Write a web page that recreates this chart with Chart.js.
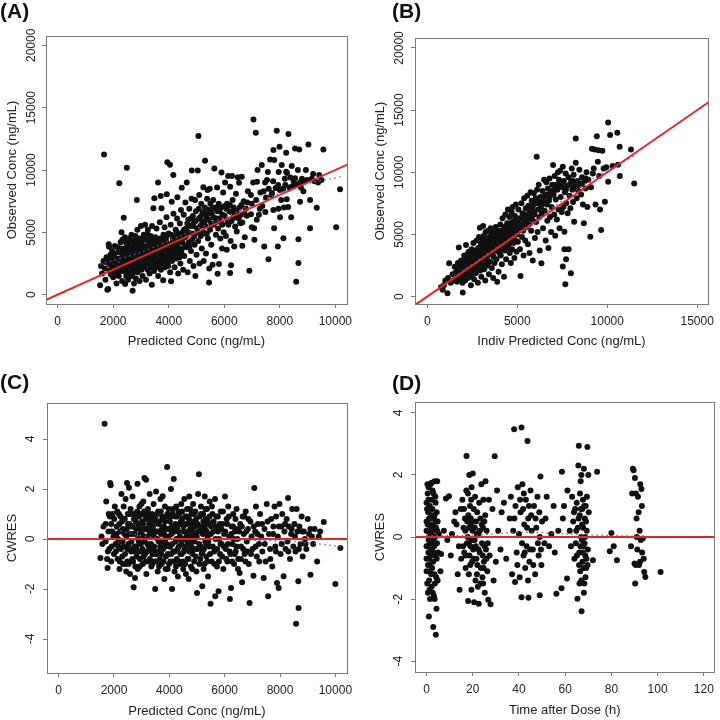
<!DOCTYPE html>
<html>
<head>
<meta charset="utf-8">
<script src="https://cdn.jsdelivr.net/npm/chart.js@4.4.1/dist/chart.umd.min.js"></script>
<style>
body { margin: 0; background: #fff; width: 720px; height: 720px; position: relative; overflow: hidden; font-family: "Liberation Sans", Arial, sans-serif; }
.panel { position: absolute; width: 360px; height: 360px; }
.tag { position: absolute; font-weight: bold; font-size: 21px; color: #111; line-height: 24px; }
</style>
</head>
<body>
<div class="panel" style="left:0;top:0"><canvas id="chartA" width="360" height="360"></canvas></div>
<div class="panel" style="left:360px;top:0"><canvas id="chartB" width="360" height="360"></canvas></div>
<div class="panel" style="left:0;top:360px"><canvas id="chartC" width="360" height="360"></canvas></div>
<div class="panel" style="left:360px;top:360px"><canvas id="chartD" width="360" height="360"></canvas></div>
<div class="tag" style="left:0;top:-1px">(A)</div>
<div class="tag" style="left:392px;top:-1px">(B)</div>
<div class="tag" style="left:0;top:370px">(C)</div>
<div class="tag" style="left:392px;top:371px">(D)</div>
<script>
// (A) observed vs population predicted, ng/mL
const predObsA = [
  [1530,750],[1560,2300],[1600,1700],[1650,2700],[1670,11250],[1700,2100],[1720,1200],[1750,2600],[1790,400],[1820,450],
  [1840,4050],[1850,3850],[1870,1900],[1880,2400],[1900,3200],[1920,1600],[1950,2900],[1980,2200],[2000,1400],
  [2030,2700],[2050,3300],[2080,1800],[2100,2500],[2120,900],[2150,3800],[2170,2000],[2200,1500],[2220,8930],[2230,2900],
  [2250,3400],[2270,4200],[2290,2300],[2300,5000],[2320,1100],[2340,3000],[2360,1900],[2380,6160],[2390,3700],[2400,2600],
  [2420,4600],[2430,850],[2450,3200],[2470,1500],[2490,10190],[2490,2200],[2500,4000],[2500,2800],
  [2520,3500],[2540,1200],[2560,2500],[2580,4500],[2600,3000],[2610,1800],[2630,3800],[2650,2200],[2660,4800],[2680,1500],
  [2700,320],[2700,2700],[2720,3400],[2740,4200],[2750,900],[2760,2000],[2780,3100],[2800,2400],[2800,4700],[2820,1300],
  [2840,3600],[2850,7600],[2860,2800],[2870,5200],[2880,1800],[2900,4000],[2910,3300],[2920,2100],[2940,4500],[2950,1100],
  [2960,3700],[2980,2600],[3000,5500],[3000,3000],
  [3020,2000],[3030,4200],[3050,3500],[3060,1500],[3080,2700],[3100,4800],[3110,3100],[3130,2300],[3150,5600],[3160,3800],
  [3180,1200],[3190,2900],[3200,4400],[3220,3300],[3240,2000],[3250,5200],[3270,3700],[3280,2500],[3300,4100],[3310,1700],
  [3330,3000],[3350,4700],[3360,2200],[3380,3500],[3390,800],[3400,5500],[3410,2800],[3430,4300],[3446,6930],[3450,3200],
  [3470,1900],[3482,7730],[3490,3900],[3500,2500],
  [3520,4600],[3540,3000],[3560,5300],[3580,2200],[3600,3700],[3615,8990],[3620,1500],[3640,4300],[3660,2700],[3680,5800],
  [3700,3300],[3712,7920],[3720,2000],[3740,6940],[3750,4000],[3770,2500],[3790,3100],[3800,1150],[3810,4800],[3830,3600],
  [3850,5400],[3860,2200],[3880,3000],[3900,4300],[3920,6200],[3928,8050],[3950,10620],[3950,3500],[3970,2600],[3990,4900],
  [4020,3200],[4045,10430],[4050,1800],[4070,5600],[4083,1070],[4100,4100],[4108,7460],[4120,2700],[4140,3700],[4165,9600],
  [4170,6500],[4190,4600],[4210,2200],[4230,3500],[4250,5200],[4270,2900],[4300,6100],[4310,7810],[4320,4000],[4340,1700],
  [4360,4800],[4380,3200],[4400,5700],[4420,2500],[4440,6800],[4460,4300],[4468,8580],[4480,3700],[4500,5000],
  [4520,2000],[4540,6400],[4560,3100],[4580,4600],[4600,7400],[4620,5300],[4648,8990],[4660,3800],[4680,1800],[4700,6000],
  [4720,4200],[4740,6900],[4760,2700],[4780,5500],[4800,3500],[4820,7700],[4830,9950],[4850,4900],[4870,6300],[4890,2300],
  [4910,5800],[4930,4000],[4950,7600],[4960,1500],[4980,6700],[5000,3200],
  [5020,5300],[5045,9950],[5060,4300],[5070,12720],[5080,6900],[5100,8000],[5110,2500],[5130,6200],[5150,4700],[5170,7300],
  [5190,3700],[5210,5800],[5230,6600],[5247,8610],[5260,2700],[5280,4900],[5300,7000],[5308,10740],[5320,5500],[5340,3300],
  [5360,6300],[5380,7700],[5400,8400],[5410,4500],[5430,6800],[5452,980],[5460,2100],[5480,8500],[5490,5200],[5500,7300],
  [5530,4000],[5550,6500],[5580,2400],[5600,7600],[5620,5600],[5643,10130],[5660,3100],[5680,7000],[5700,4800],[5720,6100],
  [5740,8600],[5760,1680],[5780,5300],[5800,7300],[5810,2450],[5830,6700],[5860,4500],[5880,5800],[5900,9800],[5920,3700],
  [5940,6400],[5960,8200],[5980,5000],[6000,7100],
  [6030,9000],[6060,4700],[6090,3600],[6100,7300],[6140,9520],[6150,5600],[6180,6700],[6210,1740],[6210,8660],[6230,4300],
  [6245,2350],[6260,5900],[6280,9520],[6300,7600],[6330,6150],[6360,3860],[6390,5460],[6400,6300],[6420,8100],[6450,5060],
  [6490,9410],[6530,8980],[6560,7000],[6570,5730],[6600,6400],[6630,9460],[6650,3920],[6650,5790],[6700,7500],[6740,4600],
  [6780,6900],[6810,6320],[6850,8300],[6905,1920],[6960,8000],[6960,6450],[6990,5400],
  [7040,9000],[7050,14050],[7075,5330],[7085,4400],[7135,12990],[7170,6000],[7180,9050],[7200,10000],[7250,6400],[7300,8200],
  [7350,10400],[7370,7120],[7440,3870],[7470,9000],[7480,6640],[7500,7800],
  [7540,9200],[7570,9830],[7590,2850],[7650,10850],[7700,8000],[7720,8150],[7770,11600],[7770,6800],[7795,5330],[7800,10800],
  [7850,8560],[7890,13150],[7930,3870],[7940,8800],[7950,6900],[7960,9830],[7990,11870],[8010,6210],[8050,7600],
  [8070,10400],[8120,8500],[8130,4530],[8150,7000],[8200,8800],[8230,11380],[8230,9860],[8250,7650],[8260,9750],[8300,7040],
  [8310,12880],[8350,8600],[8410,6210],[8430,10320],[8450,8700],[8500,9100],
  [8550,11730],[8550,9330],[8590,1040],[8650,10000],[8670,4450],[8670,2530],[8700,11650],[8730,7460],[8730,9000],[8800,9300],
  [8850,8300],[8900,9100],[8940,10000],[8980,9200],
  [9030,12050],[9090,5330],[9090,7600],[9200,9680],[9250,9100],[9330,6980],[9380,9000],[9420,9600],[9500,9200],[9570,11650],
  [10030,5410],[10170,8450],
  [1760,3000],[1810,2700],[1900,1900],[1960,3500],[2040,2100],[2060,3900],[2110,2900],[2140,1600],[2190,3400],[2210,2300],
  [2260,1900],[2280,3700],[2310,2700],[2330,4400],[2370,2500],[2410,3400],[2440,1900],[2460,4200],[2510,3100],[2530,2300],
  [2550,3900],[2570,1700],[2590,3500],[2620,2700],[2640,4300],[2670,3200],[2690,2400],[2710,3800],[2730,1800],[2770,2900],
  [2790,4400],[2810,3400],[2830,2600],[2860,4100],[2890,3000],[2930,3700],[2970,2300],[2990,4200],[3010,3300],[3040,2600],
  [3070,3900],[3090,2200],[3120,4500],[3140,3400],[3170,2700],[3210,3900],[3230,4900],[3260,2900],[3290,3400],[3320,4500],
  [3340,2600],[3370,4000],[3400,3200],[3420,3700],[3440,2400],[3460,4500],[3510,3400],[3530,4000],[3570,2800],[3590,4200],
  [3630,3500],[3650,2400],[3690,4500],[3710,3800],[3730,2900],[3760,4500],[3780,3500],[3820,3100],[3840,4200],[3870,2700],
  [3890,3600],[3910,4600],[3940,3100],[3960,3900],[3980,2300],[4010,4000],[4030,2800],[4060,3500],[4090,4800],[4110,3200],
  [4150,4400],[4180,3000],[4200,3900],[4240,4300],[4260,3400],[4290,5000],[4330,3600],[4350,4400],[4390,3000],[4410,4700],
  [4450,3400],[4490,4200],[4550,5200],[4590,3900],[4630,4700],[4670,5700],[4710,5000],[4750,3900],[4790,6100],[4840,4400],
  [4880,5500],[4920,4700],[4970,5900],[5050,5000],[5090,6100],[5140,5500],[5200,6400],[5250,5000],[5290,5900],[5330,6500],
  [5370,4900],[5440,6000],[5470,6600],[5520,5700],[5570,6900],[5610,6200],[5690,5800],[5750,6700],[5820,6100],[5870,7000],
  [5930,5600],[6020,6300],[6070,6900],[6120,5800],[6200,7200],[6270,6600],[6340,7000],[6440,6700],[6520,6100],[6620,7200],
  [6720,6500],[6830,7400],[7000,7300],[7150,7600],[7280,6900],[7420,8300],[7600,8500],[7760,9100],[8000,8400],[8180,9300],
  [8380,9400],[8600,8800],[8760,8600],[9150,9300]
];

// (B) observed vs individual predicted, ng/mL
const ipredObsB = [
  [760,750],[850,540],[920,900],[1000,1300],[1120,270],[1150,1500],[1210,2680],[1300,1100],[1400,1800],[1450,1300],
  [1520,2400],[1560,1600],[1600,2000],[1650,1200],[1700,2700],[1750,3940],[1760,1800],[1800,2200],[1850,1500],[1880,2900],
  [1900,2000],[1950,1100],[1970,320],[1980,2500],
  [2020,1800],[2050,3300],[2080,2200],[2100,1300],[2130,2700],[2150,4150],[2170,1900],[2200,2400],[2220,3000],[2250,1500],
  [2270,2100],[2300,3600],[2320,2700],[2350,1800],[2370,3200],[2400,2300],[2420,900],[2440,2900],[2460,3800],[2480,1600],[2500,2600],
  [2520,3400],[2540,2000],[2560,4300],[2580,2800],[2600,1400],[2620,3100],[2650,2300],[2670,3700],[2700,1900],[2720,2900],
  [2740,4500],[2760,3300],[2790,2500],[2810,1100],[2830,3900],[2850,2700],[2870,4800],[2890,3200],[2920,5540],[2940,2100],
  [2960,3600],[2980,4200],[3000,1600],
  [3020,3000],[3040,4500],[3060,2500],[3080,3800],[3100,5680],[3120,3300],[3140,4900],[3160,2200],[3180,4200],[3200,3500],
  [3220,1300],[3240,5200],[3260,2900],[3280,4000],[3300,3100],[3320,4600],[3340,2500],[3360,3700],[3380,5300],[3400,4300],
  [3420,1800],[3440,3400],[3460,4800],[3480,2800],[3500,4100],
  [3520,5500],[3540,3600],[3560,4400],[3580,2300],[3600,5000],[3620,3900],[3640,4700],[3660,1500],[3680,3200],[3700,5200],
  [3720,4200],[3740,2700],[3760,4900],[3780,3700],[3800,5600],[3820,4400],[3840,3000],[3860,4800],[3880,1200],[3900,3800],
  [3920,5300],[3940,4300],[3960,2000],[3980,4700],[4000,3500],
  [4020,5000],[4040,4100],[4060,5800],[4080,3300],[4100,4600],[4120,5300],[4140,2600],[4160,4200],[4180,6300],[4200,3800],
  [4220,5000],[4240,4500],[4260,1600],[4280,5600],[4300,3700],[4320,4800],[4340,6600],[4360,4200],[4380,3000],[4400,5200],
  [4420,4600],[4440,5900],[4460,3900],[4480,7000],[4500,4900],
  [4520,5500],[4540,4200],[4560,6400],[4580,3500],[4600,5000],[4620,5900],[4640,2700],[4660,4600],[4680,6800],[4700,5300],
  [4720,3800],[4740,7200],[4760,4900],[4780,6000],[4800,4300],[4820,5600],[4840,3100],[4860,6500],[4880,5100],[4900,4500],
  [4920,7400],[4940,5800],[4960,3600],[4980,6200],[5000,5000],
  [5030,4400],[5060,7000],[5090,5500],[5120,6300],[5150,3800],[5180,1660],[5200,5800],[5230,7500],[5260,4800],[5290,6700],
  [5320,5300],[5350,3300],[5380,7900],[5410,6000],[5440,4500],[5470,7100],[5500,5600],
  [5530,6500],[5560,8100],[5590,4200],[5620,7300],[5650,5800],[5680,3500],[5710,6900],[5740,8400],[5770,5300],[5800,7700],
  [5830,6200],[5860,2900],[5890,7400],[5920,8300],[5950,6600],[5980,4700],
  [6020,7900],[6050,6000],[6080,11240],[6100,8600],[6130,5200],[6160,7000],[6190,9000],[6220,6400],[6250,3700],[6280,8000],
  [6310,7200],[6340,2680],[6370,6700],[6400,8500],[6430,5500],[6460,7600],[6490,9400],
  [6520,6900],[6550,8100],[6580,4500],[6610,9200],[6640,7400],[6670,6100],[6700,8700],[6730,3900],[6760,7700],[6790,9500],
  [6820,6400],[6850,8300],[6880,5200],[6910,7200],[6940,9000],[6990,10580],
  [7020,8200],[7050,6600],[7080,9700],[7110,4900],[7140,7800],[7170,9000],[7200,6200],[7230,8600],[7260,10000],[7290,7000],
  [7320,9400],[7350,5500],[7380,10120],[7410,8000],[7440,9100],[7470,6800],[7500,8800],
  [7530,10440],[7530,2410],[7560,7200],[7590,9300],[7620,5220],[7620,3800],[7650,8400],[7670,990],[7690,9900],[7710,3000],
  [7720,7500],[7760,8900],[7800,6700],[7850,3800],[7850,9600],[7900,8100],[7950,7100],[7980,1870],[8000,9300],
  [8030,10310],[8060,8600],[8100,7600],[8130,9800],[8160,6020],[8200,8900],[8250,10760],[8250,12720],[8300,7900],[8350,9300],
  [8400,8500],[8450,10200],[8500,9000],
  [8550,8200],[8600,9600],[8650,7400],[8700,5890],[8750,9300],[8800,8700],[8850,10000],[8900,7200],[8950,9400],
  [9060,4820],[9100,8800],[9150,11900],[9200,9900],[9250,10300],[9300,11830],[9350,7400],[9420,12900],[9480,10840],[9510,11760],
  [9550,9700],[9600,7000],[9660,5350],[9730,11720],[9800,10300],[9870,7630],[9950,10400],[10050,14000],[10050,9240],[10160,12990],
  [10300,10500],[10560,13170],[10600,10600],[10690,12050],[10700,9700],[11320,11830],[11500,9100],
  [1650,1700],[1720,2300],[1830,2000],[1870,1700],[1930,2600],[2000,2300],[2060,1600],[2110,2900],[2160,2200],[2210,1700],
  [2240,3400],[2280,2500],[2330,2000],[2380,2900],[2430,2500],[2470,3300],[2530,2200],[2570,3000],[2610,2600],[2660,3200],
  [2690,2200],[2710,3600],[2770,2700],[2800,3700],[2840,3000],[2880,3500],[2910,2600],[2950,4000],[2990,3000],[3030,3700],
  [3070,3200],[3110,4200],[3150,3600],[3190,2900],[3230,4100],[3270,3500],[3310,4000],[3350,3300],[3390,4600],[3430,3900],
  [3470,4300],[3510,3700],[3550,4900],[3590,4200],[3630,3500],[3670,4500],[3710,3900],[3750,4400],[3790,5000],[3830,4100],
  [3870,4500],[3910,4000],[3950,5000],[3990,4300],[4050,4700],[4110,4300],[4170,5200],[4230,4700],[4290,4200],[4350,5300],
  [4410,4900],[4470,5500],[4530,4700],[4590,5400],[4650,5100],[4710,5700],[4770,5300],[4830,6100],[4890,5600],[4950,5200],
  [5050,6000],[5150,5600],[5250,6300],[5350,5800],[5450,6600],[5550,6200],[5650,7000],[5750,6500],[5850,7200],[5950,6800],
  [6060,7500],[6200,7700],[6350,7400],[6500,8000],[6650,8200],[6800,8000],[6950,8500],[7100,8700],[7300,8900],[7500,9200],
  [7700,8600],[7900,9000],[8100,9300],[8300,8700],[8600,9100],[8800,9500]
];

// (C) CWRES vs population predicted
const predCwresC = [
  [1510,-0.76],[1550,0.1],[1580,-0.2],[1620,0.5],[1660,4.61],[1700,-0.1],[1720,1.5],[1750,-0.8],[1770,-1.16],[1800,0.3],
  [1830,-0.4],[1850,0.9],[1860,2.24],[1880,2.15],[1900,0.6],[1920,-0.3],[1950,1.0],[1980,0.1],[2000,-0.6],
  [2030,1.3],[2060,-0.2],[2100,0.5],[2130,-0.8],[2150,0.0],[2180,1.0],[2200,-1.2],[2220,0.3],[2250,-0.4],[2270,1.8],
  [2290,0.7],[2310,-0.1],[2330,-1.0],[2350,1.3],[2380,0.2],[2400,-0.6],[2420,1.6],[2440,-1.3],[2460,0.4],[2470,2.24],
  [2480,-0.9],[2500,1.0],
  [2520,-0.2],[2540,2.05],[2560,0.6],[2580,-1.4],[2600,1.2],[2620,-0.5],[2650,0.2],[2670,1.7],[2690,-0.9],[2710,-1.93],
  [2720,0.8],[2740,-0.3],[2760,-1.56],[2780,1.0],[2800,0.4],[2820,-0.7],[2850,2.21],[2860,-1.2],[2880,0.6],[2900,-0.1],
  [2920,1.3],[2940,-0.8],[2960,0.2],[2980,1.0],[3000,-0.5],
  [3020,0.7],[3040,-1.0],[3060,1.5],[3080,0.1],[3100,2.44],[3120,-0.6],[3140,0.9],[3160,2.37],[3170,-1.4],[3190,0.4],
  [3210,-0.2],[3230,1.2],[3250,-0.9],[3270,0.6],[3290,1.8],[3310,-0.4],[3330,0.2],[3350,-1.1],[3370,1.0],[3390,-0.6],
  [3410,0.5],[3430,1.4],[3450,-0.3],[3470,-0.9],[3490,-2.0],[3500,0.8],
  [3520,1.9],[3540,-0.6],[3560,0.3],[3580,-1.3],[3600,1.1],[3620,-0.1],[3640,0.7],[3660,-0.8],[3680,1.6],[3700,0.2],
  [3720,-1.0],[3740,0.9],[3760,1.71],[3780,-0.4],[3800,0.5],[3820,-1.6],[3840,1.3],[3860,0.0],[3880,-0.7],[3900,0.9],
  [3920,2.88],[3940,-1.2],[3960,0.4],[3980,1.2],[4000,-0.3],
  [4020,0.7],[4040,-0.9],[4060,2.0],[4080,0.2],[4100,-2.0],[4120,1.0],[4140,-0.5],[4160,2.4],[4170,0.5],[4190,-1.3],
  [4210,0.9],[4230,-0.1],[4250,1.3],[4270,-0.8],[4290,0.4],[4310,-1.5],[4330,1.1],[4350,-0.3],[4370,0.6],[4390,-1.0],
  [4410,0.0],[4430,1.4],[4450,-0.6],[4470,0.8],[4500,-1.2],
  [4520,0.3],[4540,1.6],[4560,-0.4],[4580,0.9],[4600,-1.4],[4620,0.1],[4640,1.2],[4660,-0.8],[4680,0.6],[4700,-1.6],
  [4720,1.7],[4740,-0.2],[4760,0.4],[4780,-1.1],[4800,1.0],[4820,0.0],[4840,-0.6],[4860,1.4],[4880,0.7],[4900,-0.9],
  [4920,0.2],[4940,1.1],[4960,-0.4],[4980,-1.3],[5000,-2.16],
  [5020,0.6],[5040,1.8],[5070,2.59],[5080,-0.2],[5100,0.9],[5120,-0.8],[5140,1.3],[5160,0.3],[5190,-1.89],[5200,-0.5],
  [5220,1.0],[5240,-1.2],[5260,0.5],[5280,1.7],[5300,-0.1],[5320,0.8],[5340,-0.7],[5360,1.2],[5380,0.1],[5400,-1.5],
  [5420,0.6],[5440,-0.3],[5460,1.5],[5490,-2.59],[5500,0.2],
  [5530,-0.9],[5560,1.0],[5590,0.3],[5620,-0.5],[5650,1.6],[5660,-2.29],[5690,0.5],[5720,-1.1],[5750,0.9],[5780,-2.09],
  [5800,0.0],[5830,-0.6],[5860,1.1],[5890,-0.2],[5920,0.6],[5950,-1.2],[5980,0.2],
  [6010,1.7],[6040,-0.4],[6070,0.8],[6100,-0.9],[6130,1.3],[6160,0.1],[6190,-2.4],[6210,-0.6],[6230,-1.96],[6250,0.5],
  [6280,-0.2],[6310,1.0],[6340,-1.0],[6370,0.3],[6400,-0.5],[6430,1.2],[6460,0.0],[6490,-0.8],
  [6540,-1.36],[6560,0.6],[6590,-0.3],[6630,-1.73],[6650,0.9],[6690,0.2],[6720,-0.6],[6760,1.1],[6800,-0.1],[6840,0.4],
  [6870,-1.0],[6900,-2.56],[6930,0.7],[6970,0.1],
  [7010,-0.4],[7040,-1.47],[7070,2.04],[7100,0.3],[7130,1.3],[7160,-0.7],[7200,0.6],[7240,-0.2],[7280,1.0],[7320,0.1],
  [7360,-0.5],[7410,-1.56],[7440,0.4],[7480,-0.9],
  [7520,1.4],[7570,-2.29],[7600,0.2],[7640,-0.4],[7680,0.8],[7720,-1.1],[7760,0.5],[7800,1.3],[7830,-0.3],[7860,0.9],
  [7890,-1.76],[7920,0.1],[7950,-1.96],[7980,1.4],
  [8020,-0.6],[8050,0.5],[8080,1.0],[8130,-1.49],[8160,0.3],[8200,-0.4],[8240,0.8],[8270,-0.1],[8290,1.64],[8320,0.5],
  [8360,-0.8],[8400,0.2],[8440,1.2],[8480,-0.3],
  [8520,0.6],[8560,-0.5],[8580,-3.39],[8600,1.2],[8630,0.3],[8660,-1.69],[8670,-2.76],[8700,0.5],[8740,-0.2],[8780,0.9],
  [8820,-0.7],[8860,0.3],[8900,0.0],[8950,-0.4],
  [9000,0.8],[9050,0.2],[9100,-1.43],[9150,0.1],[9200,-0.2],[9250,0.4],[9340,-0.9],[9400,0.1],[9450,0.3],[9580,0.68],
  [10000,-1.8],[10180,-0.36],
  [1700,0.6],[1780,-0.5],[1810,1.0],[1900,-0.9],[1940,0.3],[2010,0.8],[2070,-0.5],[2090,0.2],[2120,1.1],[2160,-0.3],
  [2190,0.6],[2210,-0.9],[2240,0.9],[2260,-0.1],[2300,-0.7],[2320,0.4],[2360,-0.3],[2390,0.8],[2410,-1.0],[2450,0.1],
  [2490,-0.4],[2510,0.6],[2530,-1.0],[2550,0.2],[2570,1.0],[2590,-0.4],[2610,0.5],[2630,-0.1],[2660,-0.8],[2680,0.5],
  [2700,1.0],[2730,-0.5],[2750,0.2],[2770,-1.1],[2790,0.7],[2810,-0.3],[2840,1.1],[2870,0.0],[2890,-0.5],[2910,0.9],
  [2930,-1.1],[2950,0.4],[2970,-0.2],[2990,1.4],[3010,0.2],[3030,-0.4],[3050,0.6],[3070,-0.7],[3090,1.1],[3110,-0.1],
  [3130,0.4],[3150,-0.9],[3180,0.8],[3200,-0.5],[3220,0.1],[3240,1.0],[3260,-0.3],[3280,0.3],[3300,-0.8],[3320,0.8],
  [3340,-0.2],[3360,0.4],[3380,-1.0],[3400,0.9],[3420,-0.4],[3440,0.1],[3460,0.7],[3480,-0.6],[3510,0.3],[3530,-0.9],
  [3550,1.0],[3570,0.0],[3590,-0.5],[3610,0.6],[3630,-1.1],[3650,0.3],[3670,-0.3],[3690,1.1],[3710,-0.6],[3730,0.4],
  [3750,-0.1],[3770,0.8],[3790,-0.9],[3810,0.2],[3830,-0.3],[3850,0.7],[3870,-1.2],[3890,0.4],[3910,-0.2],[3930,1.0],
  [3950,-0.6],[3970,0.1],[3990,-1.0],[4010,0.4],[4030,-0.3],[4050,0.9],[4070,-0.6],[4090,0.5],[4110,-0.2],[4130,1.2],
  [4150,-0.9],[4180,0.3],[4200,-0.5],[4220,0.6],[4240,-1.1],[4260,0.0],[4280,0.9],[4300,-0.4],[4320,0.3],[4340,-0.9],
  [4360,1.0],[4380,0.1],[4400,-0.6],[4420,0.7],[4440,-0.2],[4460,1.1],[4480,-0.9],[4510,0.5],[4530,-0.5],[4550,0.0],
  [4570,-1.0],[4590,0.6],[4610,-0.3],[4630,0.9],[4650,-0.1],[4670,0.3],[4690,-0.8],[4710,0.8],[4730,-0.5],[4750,1.2],
  [4770,0.1],[4790,-0.3],[4810,0.6],[4830,-1.2],[4850,0.3],[4870,-0.4],[4890,1.0],[4910,-0.1],[4930,0.5],[4950,-0.7],
  [4970,0.8],[4990,0.1],[5030,-0.4],[5050,0.3],[5090,-1.0],[5110,0.5],[5130,-0.3],[5150,1.0],[5170,-0.6],[5210,0.2],
  [5230,0.7],[5250,-0.4],[5270,-1.0],[5290,0.4],[5310,1.2],[5330,-0.2],[5350,0.3],[5370,-0.9],[5390,0.7],[5410,-0.1],
  [5450,0.9],[5470,-0.6],[5510,0.5],[5540,1.3],[5570,-0.3],[5600,0.7],[5630,-1.0],[5670,0.0],[5700,0.9],[5730,-0.4],
  [5760,0.3],[5790,-0.9],[5820,0.6],[5850,-0.2],[5880,0.4],[5910,-0.7],[5940,1.1],[5970,-0.3],[6020,0.3],[6060,-0.8],
  [6090,0.6],[6120,-0.2],[6150,0.9],[6180,-0.5],[6240,0.2],[6270,-0.9],[6300,0.5],[6330,0.0],[6360,-0.6],[6390,0.8],
  [6420,-0.3],[6450,0.4],[6480,-1.2],[6520,0.3],[6580,-0.8],[6620,0.5],[6670,-0.4],[6710,0.9],[6750,-0.9],[6780,0.3],
  [6820,-0.5],[6860,0.8],[6950,-0.6],[7050,0.5],[7120,-0.3],[7180,0.2],[7250,-0.9],[7350,0.6],[7450,-0.2],[7550,0.7],
  [7650,-0.8],[7750,0.2],[7850,-0.5],[7960,0.5],[8060,-0.2],[8180,0.6],[8300,-0.5],[8420,0.4],[8540,0.1],[8680,-0.4],
  [8800,0.3],[8920,-0.2],[9100,0.4]
];

// (D) CWRES vs time after dose, h
const timeCwresD = [
  [0,1.1],[0,0.5],[0,-0.7],[0,-1.1],[0.3,0.2],[0.4,-0.3],[0.5,1.4],[0.6,-1.8],[0.7,0.8],[0.8,-0.5],[0.9,1.6],[1.0,-2.56],
  [1.0,0.0],[1.1,-1.4],[1.2,0.4],[1.3,-0.9],[1.4,1.0],[1.5,-2.0],[1.5,0.2],[1.6,-0.2],[1.7,1.7],[1.8,-0.6],[1.9,0.6],
  [2.0,-1.2],[2.1,0.1],[2.2,-1.6],[2.3,1.2],[2.4,-0.4],[2.5,0.9],[2.6,-0.1],[2.7,0.4],[2.8,-0.8],[2.9,-2.9],[3.0,1.4],
  [3.1,0.2],[3.2,-1.9],[3.3,-0.3],[3.4,0.7],[3.5,1.8],[3.6,-1.5],[3.7,0.0],[3.8,-0.6],[3.9,1.1],[4.0,-3.15],[4.1,0.3],
  [4.2,-1.3],[4.3,-2.31],[4.4,0.8],[4.5,-0.2],[4.6,1.8],[4.8,0.5],[5.0,-0.5],[5.3,0.1],[6.0,-1.1],[6.3,-0.55],
  [7.5,0.2],[8.4,1.24],[9.0,-0.1],[9.7,1.31],[10.5,-0.6],[11,0.1],[12,0.5],[12.5,0.8],[13,0.4],[13.5,-1.2],[14,-0.3],
  [14.3,-1.7],[14.8,0.9],[15,-0.7],
  [15.5,1.2],[16,0.3],[16.3,-0.5],[16.6,0.6],[16.9,-1.0],[17.2,1.5],[17.3,2.61],[17.5,-0.2],[17.8,0.0],[18.0,-2.06],
  [18.1,0.7],[18.3,-1.2],[18.5,2.0],[18.6,-0.6],[18.8,1.0],[19.0,-0.3],[19.2,0.4],[19.4,-1.7],[19.5,1.6],[19.7,-0.8],
  [19.9,0.2],[20.0,2.05],[20.2,-0.4],[20.4,0.9],[20.6,-2.1],[20.8,-0.1],[21.0,1.3],[21.2,-1.4],[21.4,0.5],[21.6,-0.7],
  [21.9,0.8],[22.2,-1.6],[22.4,0.1],[22.6,-2.15],[22.8,1.1],[23.0,-0.5],[23.3,0.6],[23.5,-1.0],[23.7,1.7],[24.0,-0.2],
  [24.2,-1.3],[24.4,0.3],[24.6,1.2],[24.8,-0.8],[25.0,0.5],[25.2,-1.8],[25.5,1.8],[25.7,-0.4],[26.0,0.2],[26.3,-1.1],
  [26.7,-2.02],[27.0,1.2],[27.3,-0.6],[27.7,-2.17],
  [28.5,0.9],[29,-1.4],[29.5,2.6],[30,-0.8],[30.5,1.5],[31,0.2],[32,-0.4],[32.5,0.8],[33.5,1.1],[34.5,-0.7],
  [36,0.6],[36.5,1.3],[37,-1.2],[37.5,0.2],[37.9,3.47],[38.3,-1.45],[38.5,1.0],[39,-0.5],[39.5,1.6],[40,0.1],[40.3,-1.3],
  [40.7,0.8],[41.1,3.53],[41.1,-1.94],[41.5,1.7],[42,-0.6],[42.3,0.4],[42.7,-1.0],[43,1.2],[43.3,-0.3],[43.7,3.09],[44,0.6],
  [44.1,-1.96],[44.5,-0.8],[45,1.5],[45.5,0.2],[46,-0.4],[46.5,1.0],[47,-1.2],[47.5,0.3],[48,1.3],[48.5,-0.6],[49,-1.88],
  [49,0.0],[49.3,1.95],[49.7,-0.9],[50,0.5],
  [51,-0.2],[51.5,0.6],[52,1.3],[53,-0.3],[54,0.1],[55,1.0],[55.5,-0.5],[56.2,-1.83],[57,0.2],[58.4,-1.65],[58.6,2.1],
  [59,0.6],[59.5,1.0],
  [60.8,-1.34],[61,1.5],[62,0.2],[62.5,-0.3],[63,1.3],[63.5,0.5],[64,-0.7],[64.3,0.9],[64.6,-0.2],[65,1.1],[65.3,-1.99],
  [65.5,0.3],[65.7,2.3],[65.9,2.94],[66.1,-0.5],[66.3,0.7],[66.5,-1.1],[66.7,1.8],[66.9,0.0],[67.1,-2.39],[67.3,0.4],
  [67.5,-0.8],[67.7,1.2],[67.9,-0.3],[68.1,2.2],[68.3,-1.5],[68.5,0.6],[68.7,-0.6],[68.9,1.0],[69.1,-1.0],[69.3,0.2],
  [69.6,2.9],[69.8,-0.4],[70,2.0],[70.2,0.8],
  [72,-0.75],[73.8,2.1],[79.3,-0.46],[80,0.13],[81,-0.3],[82.4,-0.75],
  [88.5,-0.3],[89,1.4],[89.3,2.2],[89.6,2.15],[90,-0.85],[90.2,1.9],[90.3,-1.5],[90.6,1.4],[90.9,0.6],[91.2,-0.4],
  [91.5,1.3],[91.8,0.8],[92,-0.9],[92.2,0.2],[92.5,1.7],[92.7,-0.1],[93,1.55],[93.3,-0.5],[93.6,-0.05],[94,-0.7],
  [94.2,-1.13],[94.7,-1.29],[101.3,-1.13],
  [0,0.2],[0,-0.3],[0.2,0.9],[0.3,-1.5],[0.5,0.4],[0.6,-0.9],[0.8,1.2],[0.9,-0.1],[1.1,0.6],[1.2,-0.7],[1.4,-1.1],
  [1.6,0.9],[1.8,0.3],[2.0,-0.4],[2.2,0.7],[2.4,-1.0],[2.6,1.5],[2.8,0.0],[3.0,-0.5],[3.2,0.6],[3.4,-1.2],[3.6,0.3],
  [3.8,1.3],[4.0,-0.2],[4.2,0.5],[4.4,-0.7],[4.6,0.2],[4.8,-1.4],[1.3,-1.7],[2.7,-1.8],[3.5,-2.0],[0.4,1.7],[2.2,1.75],
  [15.8,-0.3],[16.2,0.9],[16.8,0.2],[17.0,-0.6],[17.6,0.5],[18.2,-0.2],[18.4,0.3],[18.9,-0.9],[19.1,0.6],[19.6,-0.1],
  [20.1,0.5],[20.5,-0.7],[20.9,0.3],[21.3,-0.3],[21.7,0.1],[22.0,-0.9],[22.5,-0.4],[23.1,0.2],[23.4,-1.5],[23.9,0.4],
  [24.3,-0.6],[24.7,-1.0],[25.1,-0.3],[25.4,0.7],[25.9,-0.7],[26.5,-0.2],[19.3,1.2],[17.9,1.4],[21.8,-1.2],[24.5,-1.5],
  [38,0.6],[39.3,-0.9],[40.5,1.2],[41.3,-0.2],[41.8,0.9],[42.5,-0.5],[43.5,0.3],[44.3,1.0],[44.8,-0.4],[45.3,0.7],
  [46.2,-0.9],[47.2,0.6],[48.2,-0.2],[48.8,0.8],[49.5,-0.4],[42.1,1.4],[43.9,-1.4],
  [63.8,0.8],[64.8,0.2],[65.1,-0.6],[65.8,0.6],[66.0,-0.9],[66.4,1.4],[66.6,-0.3],[66.8,0.9],[67.0,-1.4],[67.2,-0.1],
  [67.4,0.9],[67.6,-0.5],[67.8,0.3],[68.0,-1.0],[68.2,1.0],[68.4,-0.2],[68.6,0.0],[68.8,-1.3],[69.0,0.5],[69.2,-0.7],
  [69.4,1.3],[69.7,-0.9],[68.1,-1.8],[66.2,-1.5],[67.0,2.0],
  [91,0.0],[92.4,-0.8],[93.2,1.0],[90.5,-0.9]
];

// reference lines (identity / zero) and the dotted smooth
const identityA = [[-1000,-1000],[21000,21000]];
const identityB = [[-1000,-1000],[21000,21000]];
const zeroC = [[-1000,0],[11000,0]];
const zeroD = [[-10,0],[130,0]];
const smoothA = [[1530,2450],[3000,3400],[4500,4800],[6000,6200],[7500,7700],[9000,8900],[10300,9500]];
const smoothB = [[800,900],[3000,3100],[6000,6100],[9000,9300],[11600,11400]];
const smoothC = [[1530,0.55],[2500,0.25],[3500,0.05],[5000,0.0],[7000,-0.05],[8500,-0.1],[10200,-0.3]];
const smoothD = [[0,0.05],[20,0.05],[40,0.15],[60,0.1],[80,0.05],[100,0.0]];

// tick labels
const concTicksA = [0, 2000, 4000, 6000, 8000, 10000];
const concTicksB = [0, 5000, 10000, 15000];
const obsTicks = [0, 5000, 10000, 15000, 20000];
const cwresTicks = [-4, -2, 0, 2, 4];
const timeTicks = [0, 20, 40, 60, 80, 100, 120];

const FONT = '"Liberation Sans", Arial, Helvetica, sans-serif';
const INK = '#222';

const boxPlugin = {
    id: 'box',
    afterDraw(chart) {
        const a = chart.chartArea;
        const c = chart.ctx;
        c.save();
        c.strokeStyle = '#7a7a7a';
        c.lineWidth = 1;
        c.strokeRect(Math.round(a.left) + 0.5, Math.round(a.top) + 0.5, Math.round(a.right - a.left), Math.round(a.bottom - a.top));
        c.restore();
    }
};

function makePanel(id, p) {
    return new Chart(document.getElementById(id), {
        type: 'scatter',
        data: {
            datasets: [
                { type: 'line', data: p.refLine, borderColor: '#e2262b', borderWidth: 2, pointRadius: 0, order: 0 },
                { type: 'line', data: p.smooth, borderColor: '#5b63b8', borderWidth: 1.3, borderDash: [1.5, 3.5], pointRadius: 0, tension: 0.3, order: 1 },
                { data: p.points, backgroundColor: '#111', borderWidth: 0, pointRadius: 3, order: 2 }
            ]
        },
        options: {
            animation: false,
            responsive: false,
            events: [],
            layout: { padding: { top: p.top, right: p.right, left: 0, bottom: 0 } },
            plugins: { legend: { display: false }, tooltip: { enabled: false } },
            scales: {
                x: {
                    type: 'linear',
                    min: p.xMin,
                    max: p.xMax,
                    afterBuildTicks: s => { s.ticks = p.xTicks.map(v => ({ value: v })); },
                    afterFit: s => { s.height = p.xAxisH; },
                    grid: { display: true, drawOnChartArea: false, drawTicks: true, tickLength: 4, color: '#777' },
                    border: { display: false },
                    ticks: { padding: 6, color: INK, autoSkip: false, maxRotation: 0, font: { family: FONT, size: 12 }, callback: v => String(v) },
                    title: { display: true, text: p.xTitle, color: INK, font: { family: FONT, size: 13 }, padding: { top: 0, bottom: p.xTitlePad } }
                },
                y: {
                    type: 'linear',
                    min: p.yMin,
                    max: p.yMax,
                    afterBuildTicks: s => { s.ticks = p.yTicks.map(v => ({ value: v })); },
                    afterFit: s => { s.width = p.yAxisW; },
                    grid: { display: true, drawOnChartArea: false, drawTicks: true, tickLength: 4, color: '#777' },
                    border: { display: false },
                    ticks: { padding: p.yTickPad, crossAlign: 'center', minRotation: 90, maxRotation: 90, color: INK, autoSkip: false, font: { family: FONT, size: 12 }, callback: v => String(v) },
                    title: { display: true, text: p.yTitle, color: INK, font: { family: FONT, size: 13 }, padding: { top: p.yTitlePad, bottom: 0 } }
                }
            }
        },
        plugins: [boxPlugin]
    });
}

makePanel('chartA', {
    points: predObsA, refLine: identityA, smooth: smoothA,
    xMin: -420, xMax: 10420, yMin: -750, yMax: 20750, xTicks: concTicksA, yTicks: obsTicks,
    top: 36, right: 13, xAxisH: 56, yAxisW: 46, yTickPad: -6.7, yTitlePad: 4.2, xTitlePad: 10.5,
    xTitle: 'Predicted Conc (ng/mL)', yTitle: 'Observed Conc (ng/mL)'
});

makePanel('chartB', {
    points: ipredObsB, refLine: identityB, smooth: smoothB,
    xMin: -687, xMax: 15600, yMin: -600, yMax: 20800, xTicks: concTicksB, yTicks: obsTicks,
    top: 38, right: 4, xAxisH: 56, yAxisW: 55, yTickPad: -5.7, yTitlePad: 12.2, xTitlePad: 10.5,
    xTitle: 'Indiv Predicted Conc (ng/mL)', yTitle: 'Observed Conc (ng/mL)'
});

makePanel('chartC', {
    points: predCwresC, refLine: zeroC, smooth: smoothC,
    xMin: -420, xMax: 10420, yMin: -5.36, yMax: 5.44, xTicks: concTicksA, yTicks: cwresTicks,
    top: 43, right: 13, xAxisH: 47, yAxisW: 47, yTickPad: 6.7, yTitlePad: 4.2, xTitlePad: 1.2,
    xTitle: 'Predicted Conc (ng/mL)', yTitle: 'CWRES'
});

makePanel('chartD', {
    points: timeCwresD, refLine: zeroD, smooth: smoothD,
    xMin: -5, xMax: 124.6, yMin: -4.35, yMax: 4.35, xTicks: timeTicks, yTicks: cwresTicks,
    top: 42, right: 5, xAxisH: 48, yAxisW: 55, yTickPad: 6.7, yTitlePad: 12.2, xTitlePad: 2.2,
    xTitle: 'Time after Dose (h)', yTitle: 'CWRES'
});
</script>
</body>
</html>
